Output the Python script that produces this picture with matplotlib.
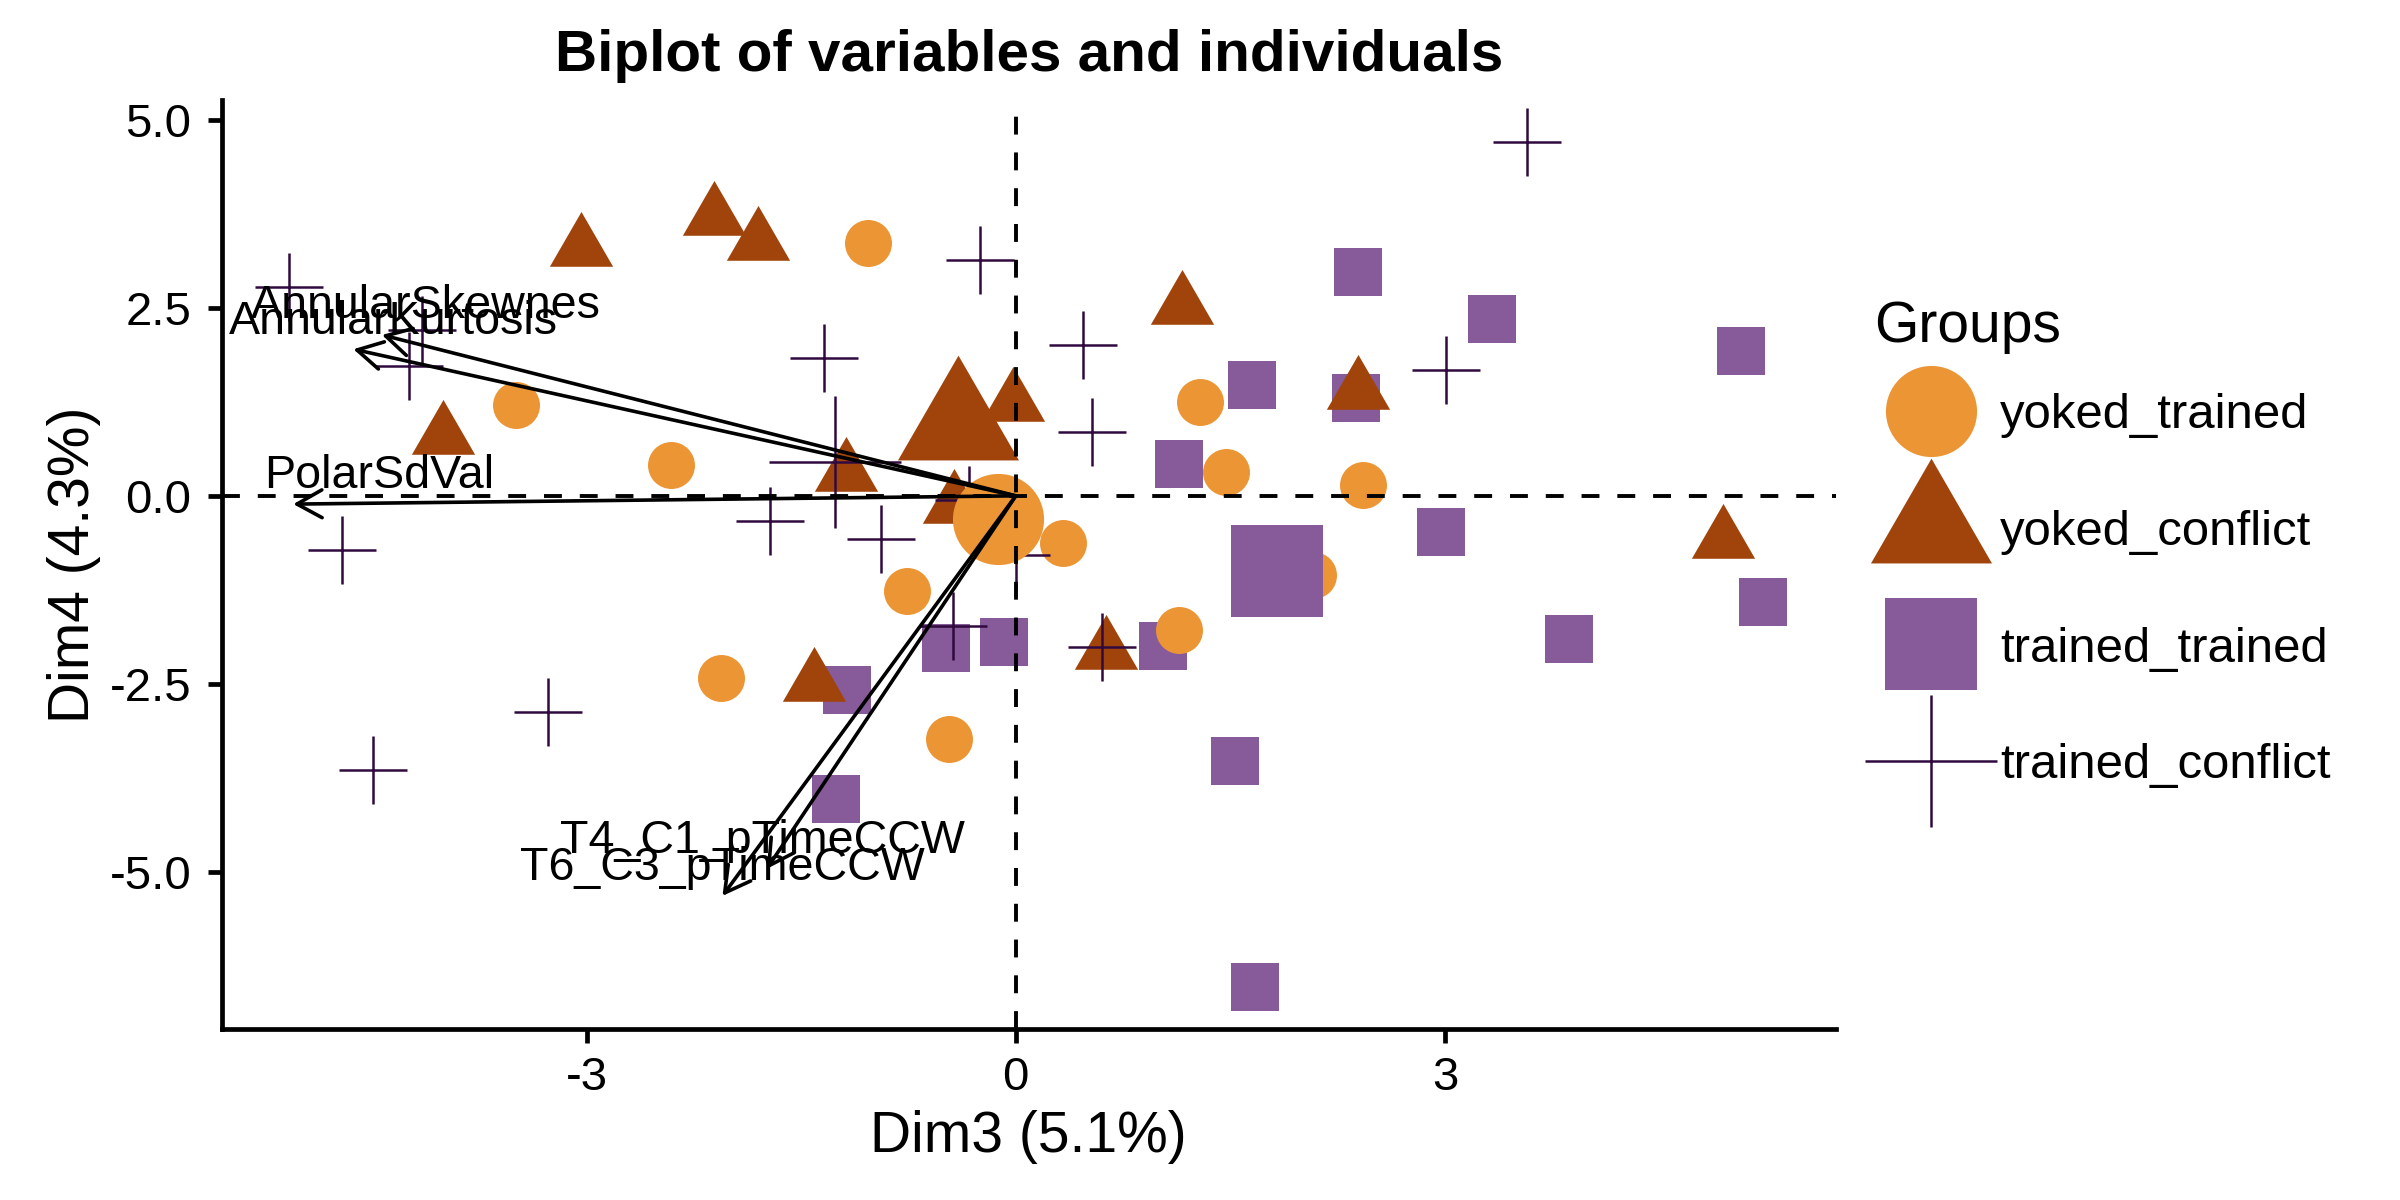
import matplotlib.pyplot as plt
import numpy as np
from matplotlib.lines import Line2D

plt.rcParams['font.family'] = ['Liberation Sans', 'DejaVu Sans']
plt.rcParams['axes.unicode_minus'] = False

groups = ['yoked_trained', 'yoked_conflict', 'trained_trained', 'trained_conflict']
colors = ['#EC9535', '#A1440B', '#875A9A', '#300A3F']

# individuals (Dim3, Dim4) per group
yt_x = [-1.03, -3.49, -2.41, 1.29, 1.47, 2.43, 0.33, -0.76, 2.08, 1.14, -2.06, -0.47]
yt_y = [3.36, 1.21, 0.41, 1.25, 0.32, 0.15, -0.63, -1.26, -1.05, -1.79, -2.42, -3.23]
yc_x = [-3.04, -2.11, -1.80, -4.00, 1.16, -0.02, -1.19, -0.43, 2.39, 4.94, -1.41, 0.63]
yc_y = [3.30, 3.71, 3.37, 0.79, 2.53, 1.23, 0.31, -0.12, 1.40, -0.59, -2.49, -2.06]
tt_x = [2.39, 3.33, 5.07, 1.65, 2.38, 1.14, 2.97, 5.22, 3.87, -0.49, -0.08, 1.03,
        -1.18, -1.26, 1.53, 1.67]
tt_y = [2.98, 2.35, 1.93, 1.47, 1.30, 0.42, -0.48, -1.41, -1.91, -2.03, -1.95, -2.00,
        -2.58, -4.03, -3.52, -6.53]
tc_x = [-5.08, -4.15, -4.24, -4.71, -3.27, -4.49, -0.25, -1.34, 0.47, 0.53, 3.57, 3.01,
        -1.72, -0.94, -0.33, 0.00, -0.44, 0.60]
tc_y = [2.78, 2.20, 1.73, -0.72, -2.88, -3.64, 3.14, 1.83, 2.00, 0.85, 4.70, 1.67,
        -0.33, -0.57, -0.05, -0.79, -1.73, -2.01]

# variables (arrow tips) and their label positions
var_names = ['AnnularSkewnes', 'AnnularKurtosis', 'PolarSdVal', 'T4_C1_pTimeCCW', 'T6_C3_pTimeCCW']
var_x = [-4.43, -4.63, -5.05, -1.74, -2.05]
var_y = [2.14, 1.95, -0.11, -4.96, -5.32]
lab_x = [-4.12, -4.35, -4.45, -1.77, -2.05]
lab_y = [2.37, 2.15, 0.11, -4.75, -5.11]

xticks = [-3, 0, 3]
yticks = [-5.0, -2.5, 0.0, 2.5, 5.0]

tri = [(0, 1.555), (-1.347, -0.778), (1.347, -0.778)]
markers = ['o', tri, 's', '+']
sizes = [286, 692, 289, 615]
mean_sizes = [1076, 2530, 1082, 2256]
data = [(yt_x, yt_y), (yc_x, yc_y), (tt_x, tt_y), (tc_x, tc_y)]

fig = plt.figure(figsize=(12, 6), dpi=200)
ax = fig.add_axes([0.09238, 0.14250, 0.67246, 0.77392])

# draw order: squares, triangles, circles, crosses
order = [2, 1, 0, 3]
for i in order:
    x, y = data[i]
    if markers[i] == '+':
        ax.scatter(x, y, s=sizes[i], marker='+', color=colors[i], linewidths=0.9, zorder=2)
    else:
        ax.scatter(x, y, s=sizes[i], marker=markers[i], color=colors[i], linewidths=0, zorder=2)

# group means
for i in order:
    x, y = data[i]
    mx, my = np.mean(x), np.mean(y)
    if markers[i] == '+':
        ax.scatter([mx], [my], s=mean_sizes[i], marker='+', color=colors[i], linewidths=0.9, zorder=3)
    else:
        ax.scatter([mx], [my], s=mean_sizes[i], marker=markers[i], color=colors[i], linewidths=0, zorder=3)

ax.axhline(0, color='black', lw=1.4, ls=(0, (4.6, 4.6)), zorder=4)
ax.axvline(0, color='black', lw=1.4, ls=(0, (4.6, 4.6)), zorder=4)

for name, vx, vy, tx, ty in zip(var_names, var_x, var_y, lab_x, lab_y):
    ax.annotate('', xy=(vx, vy), xytext=(0, 0),
                arrowprops=dict(arrowstyle='->,head_length=0.45,head_width=0.25',
                                lw=1.3, color='black', shrinkA=0, shrinkB=0,
                                mutation_scale=20),
                zorder=5)
    ax.text(tx, ty, name, ha='center', va='baseline', fontsize=16.8, color='black', zorder=6)

ax.set_xlim(-5.55, 5.73)
ax.set_ylim(-7.09, 5.26)
ax.set_xticks(xticks)
ax.set_xticklabels([str(t) for t in xticks])
ax.set_yticks(yticks)
ax.set_yticklabels(['%.1f' % t for t in yticks])
for side in ['top', 'right']:
    ax.spines[side].set_visible(False)
for side in ['left', 'bottom']:
    ax.spines[side].set_linewidth(1.7)
ax.tick_params(axis='both', length=5, width=1.7, labelsize=17, colors='black')
ax.tick_params(axis='y', pad=6)
ax.tick_params(axis='x', pad=4.7)

ax.set_xlabel('Dim3 (5.1%)', fontsize=20.5, labelpad=3.5)
ax.set_ylabel('Dim4 (4.3%)', fontsize=20.5, labelpad=3)
ax.set_title('Biplot of variables and individuals', fontsize=21, fontweight='bold', pad=10.6)

# legend
fig.text(1874 / 2400, 1 - 341.8 / 1200, 'Groups', fontsize=20.5, ha='left', va='baseline')
handles = []
leg_ms = [32.8, 50.3, 32.9, 47.5]
for i in range(4):
    handles.append(Line2D([], [], linestyle='none', marker=markers[i], markersize=leg_ms[i],
                          color=colors[i], markeredgewidth=0.9 if markers[i] == '+' else 0))
leg = fig.legend(handles, groups, loc='upper left',
                 bbox_to_anchor=(1874 / 2400, 1 - 393 / 1200), frameon=False,
                 fontsize=17.7, borderpad=0, borderaxespad=0,
                 handlelength=2.32, handletextpad=0.25, labelspacing=1.46)

fig.savefig('out.png', dpi=200)
